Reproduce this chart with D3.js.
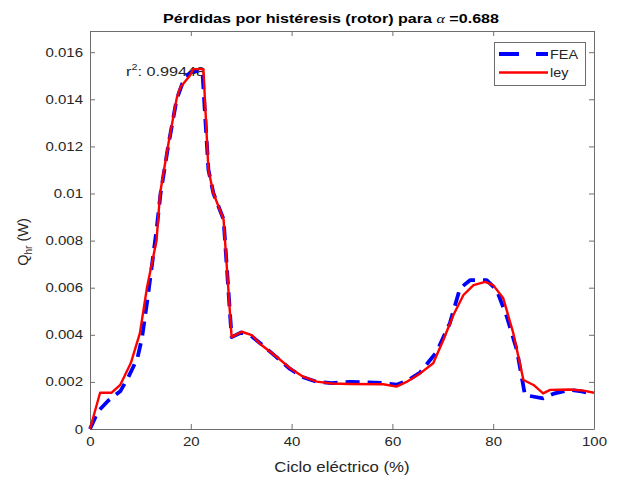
<!DOCTYPE html>
<html>
<head>
<meta charset="utf-8">
<script src="https://cdn.jsdelivr.net/npm/d3@7"></script>
<style>
  html, body { margin: 0; padding: 0; background: #fff; }
  svg { display: block; font-family: "Liberation Sans", Arial, Helvetica, sans-serif; }
</style>
</head>
<body>
<svg id="chart" width="617" height="481"></svg>
<script>
// Electrical cycle position (%) and hysteresis losses (W, in thousandths) per series
const feaCycle = [0, 1.6, 3.6, 6, 7.6, 9.4, 10.3, 11.4, 13.2, 14, 15.5, 17.2, 18.8, 20.5, 22.3, 23.5, 24.5, 26.5, 28.1, 30, 32, 34, 37, 39.7, 42.3, 45, 48, 51.6, 55, 58.2, 60.8, 63, 65.5, 68.8, 71.4, 73.4, 75.4, 78.7, 80.7, 82.7, 84.7, 86.3, 89.9, 92, 95.2, 97.5, 99.7];
const feaLoss  = [0, 0.75, 1.2, 1.6, 2.2, 3.0, 3.85, 5.5, 8.45, 10.0, 12.0, 14.0, 14.95, 15.2, 15.2, 11.0, 10.0, 8.9, 3.9, 4.1, 3.95, 3.6, 3.05, 2.55, 2.2, 2.0, 1.95, 2.0, 1.98, 1.95, 1.88, 2.05, 2.4, 3.28, 4.49, 5.97, 6.32, 6.32, 5.9, 4.77, 3.35, 1.44, 1.3, 1.5, 1.66, 1.6, 1.49];

const leyCycle = [0, 2, 4.3, 6, 8.1, 9.9, 11.3, 13.2, 13.9, 15.5, 17.2, 17.9, 19.8, 20.5, 22.5, 23.5, 24.5, 26.5, 28.1, 30.1, 32.1, 33.7, 37, 39.7, 42.3, 45, 48, 51.6, 58.2, 60.8, 62.8, 65.5, 68.1, 70.1, 72.1, 74.1, 76.1, 78.4, 80, 82, 84, 86, 88, 89.9, 91.3, 95.2, 97.9, 100];
const leyLoss  = [0, 1.54, 1.54, 1.87, 2.8, 4.07, 6.0, 8.0, 10.0, 12.05, 14.04, 14.5, 15.0, 15.28, 15.28, 11.0, 10.0, 8.9, 3.9, 4.13, 3.99, 3.62, 3.07, 2.58, 2.22, 2.01, 1.93, 1.91, 1.9, 1.8, 2.0, 2.36, 2.79, 3.78, 4.84, 5.69, 6.11, 6.25, 6.11, 5.55, 4.06, 2.08, 1.87, 1.51, 1.66, 1.68, 1.63, 1.54];

const xTicks = [0, 20, 40, 60, 80, 100];
const yTicks = [0, 0.002, 0.004, 0.006, 0.008, 0.01, 0.012, 0.014, 0.016];
const yTickLabels = ["0", "0.002", "0.004", "0.006", "0.008", "0.01", "0.012", "0.014", "0.016"];
const seriesNames = ["FEA", "ley"];
const r2Value = "0.99448";
const alphaValue = "0.688";

const svg = d3.select("#chart");
const plotLeft = 90, plotRight = 594, plotTop = 31, plotBottom = 429;
const textColor = "#262626", axisColor = "#6e6e6e";
// Text in this figure is set slightly wide
const sx = 1.2;

const x = d3.scaleLinear().domain([0, 100]).range([plotLeft, plotRight]);
const y = d3.scaleLinear().domain([0, 0.0169]).range([plotBottom, plotTop]);

svg.append("rect").attr("width", 617).attr("height", 481).attr("fill", "#fff");

// Places a horizontally widened text element anchored at (px, py)
function wideText(parent, px, py, anchor) {
  return parent.append("text")
    .attr("transform", `translate(${px},${py}) scale(${sx},1)`)
    .attr("text-anchor", anchor || "start");
}

// Axes: ticks point inward, mirrored on top and right
const axB = d3.axisBottom(x).tickValues(xTicks).tickSizeInner(-5).tickSizeOuter(0).tickPadding(8);
const axT = d3.axisTop(x).tickValues(xTicks).tickSizeInner(-5).tickSizeOuter(0).tickFormat("");
const axL = d3.axisLeft(y).tickValues(yTicks).tickSizeInner(-5).tickSizeOuter(0).tickPadding(7)
  .tickFormat((d, i) => yTickLabels[i]);
const axR = d3.axisRight(y).tickValues(yTicks).tickSizeInner(-5).tickSizeOuter(0).tickFormat("");

function styleAxis(g) {
  g.select(".domain").attr("stroke", axisColor).attr("stroke-width", 1);
  g.selectAll(".tick line").attr("stroke", axisColor);
  g.selectAll(".tick text").attr("fill", textColor).style("font-size", "12.5px")
    .style("font-family", "'Liberation Sans', Arial, sans-serif");
}
svg.append("g").attr("transform", `translate(0,${plotBottom})`).call(axB).call(styleAxis)
  .selectAll(".tick text").attr("transform", `scale(${sx},1)`);
svg.append("g").attr("transform", `translate(0,${plotTop})`).call(axT).call(styleAxis);
svg.append("g").attr("transform", `translate(${plotLeft},0)`).call(axL).call(styleAxis)
  .selectAll(".tick text").attr("x", -7 / sx).attr("transform", `scale(${sx},1)`);
svg.append("g").attr("transform", `translate(${plotRight},0)`).call(axR).call(styleAxis);

// r^2 annotation
const r2 = wideText(svg, 126, 76).attr("fill", textColor).style("font-size", "13.5px");
r2.append("tspan").text("r");
r2.append("tspan").attr("dy", -6).style("font-size", "9px").text("2");
r2.append("tspan").attr("dy", 6).text(": " + r2Value);

// Series
const line = d3.line().x(d => x(d[0])).y(d => y(d[1] / 1000));
const feaData = feaCycle.map((c, i) => [c, feaLoss[i]]);
const leyData = leyCycle.map((c, i) => [c, leyLoss[i]]);

svg.append("path").datum(feaData).attr("d", line)
  .attr("fill", "none").attr("stroke", "#0000ff").attr("stroke-width", 3.8)
  .attr("stroke-dasharray", "14,8").attr("stroke-linejoin", "round");
svg.append("path").datum(leyData).attr("d", line)
  .attr("fill", "none").attr("stroke", "#ff0000").attr("stroke-width", 2.4)
  .attr("stroke-linejoin", "round");

// Title
const title = wideText(svg, 331, 23, "middle").attr("fill", "#000")
  .style("font-size", "13.4px").style("font-weight", "bold");
title.append("tspan").text("Pérdidas por histéresis (rotor) para ");
title.append("tspan").style("font-family", "'Liberation Serif', 'Times New Roman', serif")
  .style("font-style", "italic").style("font-weight", "normal").text("α");
title.append("tspan").text(" =" + alphaValue);

// Axis labels
wideText(svg, (plotLeft + plotRight) / 2, 472, "middle")
  .attr("fill", textColor).style("font-size", "14px").text("Ciclo eléctrico (%)");
const yl = svg.append("text").attr("transform", "translate(28,242) rotate(-90)")
  .attr("text-anchor", "middle").attr("fill", textColor).style("font-size", "14.5px");
yl.append("tspan").text("Q");
yl.append("tspan").attr("dy", 4).style("font-size", "10px").text("hr");
yl.append("tspan").attr("dy", -4).text(" (W)");

// Legend
const lg = svg.append("g");
lg.append("rect").attr("x", 494.5).attr("y", 42.5).attr("width", 91).attr("height", 43)
  .attr("fill", "#fff").attr("stroke", axisColor);
lg.append("line").attr("x1", 499).attr("x2", 548).attr("y1", 54).attr("y2", 54)
  .attr("stroke", "#0000ff").attr("stroke-width", 3.8).attr("stroke-dasharray", "20,17,12");
lg.append("line").attr("x1", 499).attr("x2", 548).attr("y1", 72.5).attr("y2", 72.5)
  .attr("stroke", "#ff0000").attr("stroke-width", 2.4);
wideText(lg, 550, 58.5).attr("fill", textColor).style("font-size", "12px").text(seriesNames[0]);
wideText(lg, 550, 77).attr("fill", textColor).style("font-size", "12px").text(seriesNames[1]);
</script>
</body>
</html>
